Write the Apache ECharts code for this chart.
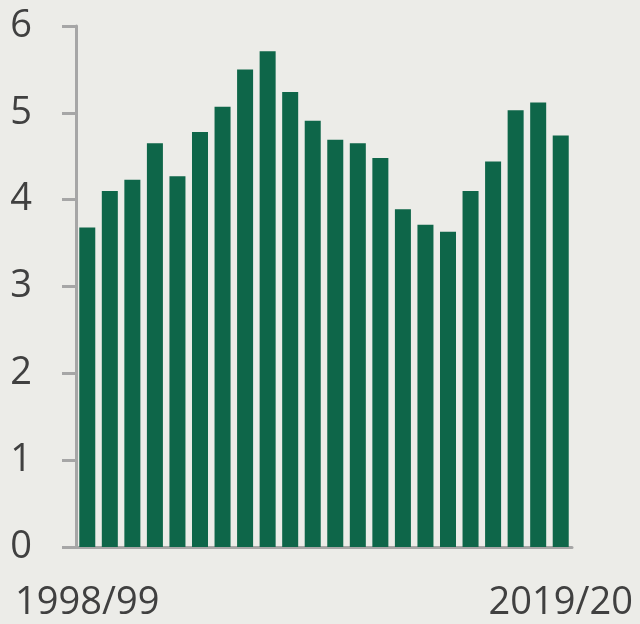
<!DOCTYPE html>
<html>
<head>
<meta charset="utf-8">
<script src="https://cdn.jsdelivr.net/npm/echarts@6/dist/echarts.min.js"></script>
<style>
  html, body { margin: 0; padding: 0; background: #ECECE8; }
  #chart { width: 640px; height: 624px; }
</style>
</head>
<body>
<div id="chart"></div>
<script>
// years 1998/99 .. 2019/20
const years = [
  "1998/99", "1999/00", "2000/01", "2001/02", "2002/03", "2003/04",
  "2004/05", "2005/06", "2006/07", "2007/08", "2008/09", "2009/10",
  "2010/11", "2011/12", "2012/13", "2013/14", "2014/15", "2015/16",
  "2016/17", "2017/18", "2018/19", "2019/20"
];
const values = [
  3.68, 4.10, 4.23, 4.65, 4.27, 4.78, 5.07, 5.50, 5.71, 5.24, 4.91,
  4.69, 4.65, 4.48, 3.89, 3.71, 3.63, 4.10, 4.44, 5.03, 5.12, 4.74
];
const yTicks = { min: 0, max: 6, step: 1 };

const chart = echarts.init(document.getElementById("chart"));

const axisColor = "#A6A6A6";
const textColor = "#404040";

chart.setOption({
  backgroundColor: "#ECECE8",
  animation: false,
  grid: { left: 76, right: 68, top: 26, bottom: 77 },
  xAxis: {
    type: "category",
    data: years,
    axisLine: { lineStyle: { color: axisColor, width: 3 } },
    axisTick: { show: false },
    axisLabel: {
      // only first and last year are labelled
      interval: (i) => i === 0 || i === years.length - 1,
      color: textColor,
      fontFamily: "Open Sans",
      fontSize: 38,
      margin: 37
    }
  },
  yAxis: {
    type: "value",
    min: yTicks.min,
    max: yTicks.max,
    interval: yTicks.step,
    splitLine: { show: false },
    axisLine: { show: true, lineStyle: { color: axisColor, width: 3 } },
    axisTick: { show: true, length: 14, lineStyle: { color: axisColor, width: 3 } },
    axisLabel: {
      color: textColor,
      fontFamily: "Open Sans",
      fontSize: 38,
      margin: 44
    }
  },
  series: [
    {
      type: "bar",
      data: values,
      barCategoryGap: "29%",
      itemStyle: { color: "#0E6649" }
    }
  ]
});
</script>
</body>
</html>
